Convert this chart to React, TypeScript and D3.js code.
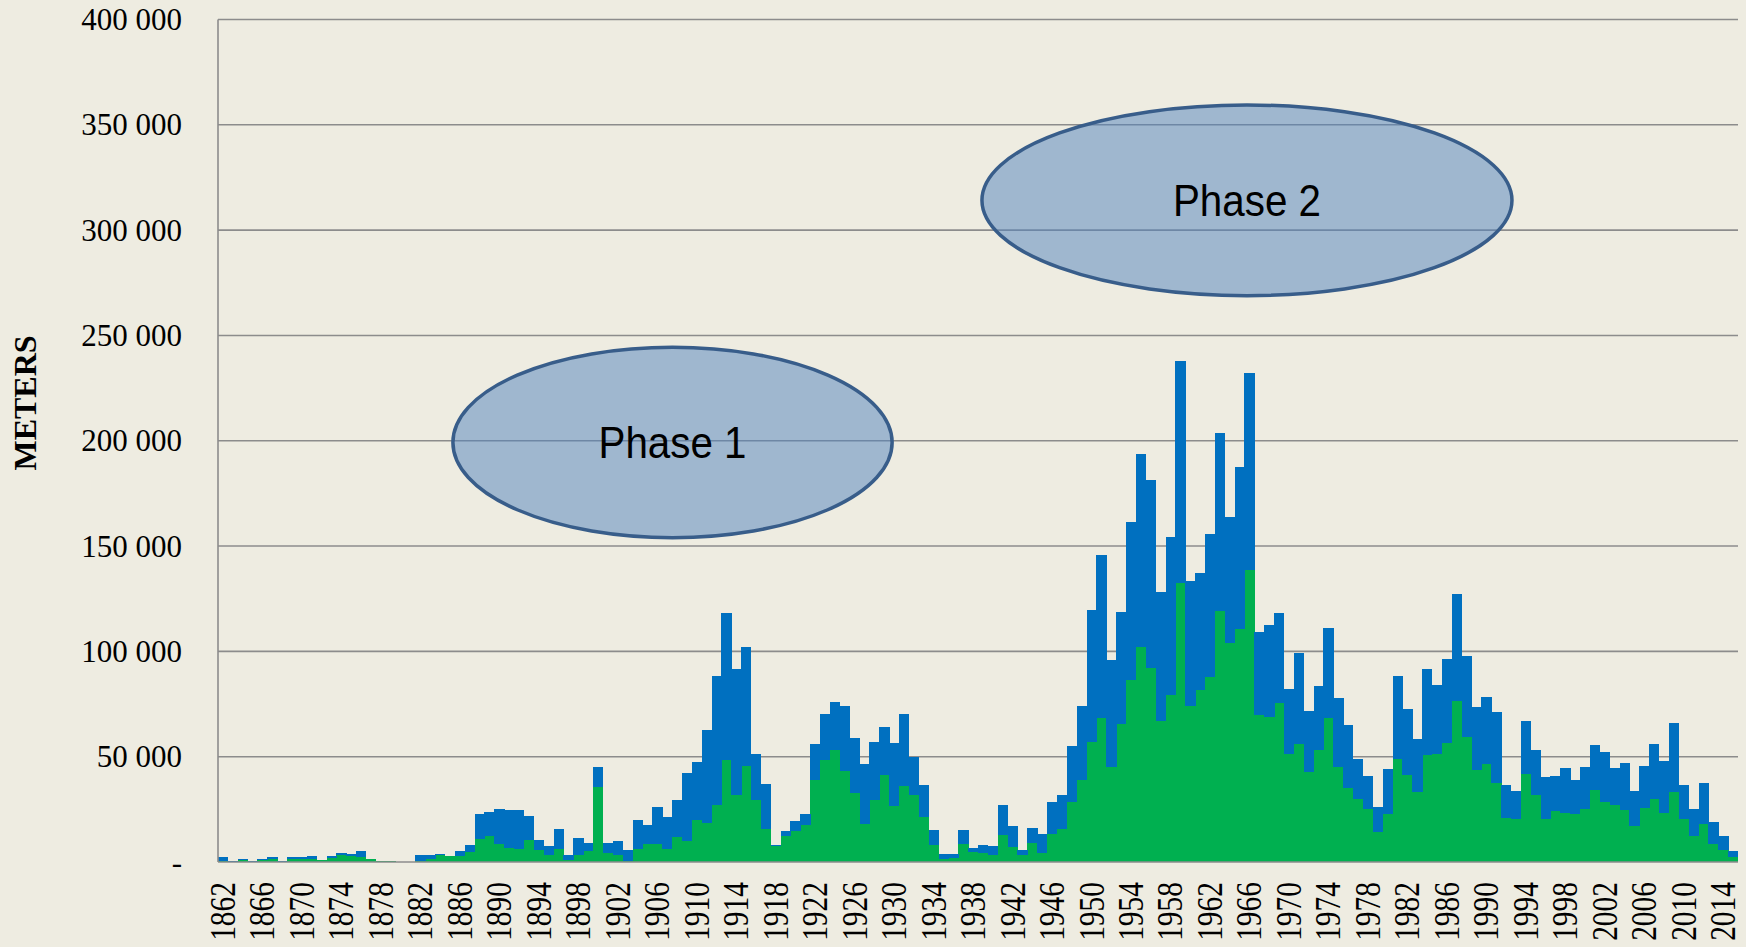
import { useEffect, useRef } from 'react';
import * as d3 from 'd3';

const WIDTH = 1746;
const HEIGHT = 947;

const YEARS = d3.range(1862, 2016);

// lower (green) part of every yearly bar, metres
const GREEN = [
  500, 200, 800, 100, 1100, 1400, 200, 1600,
  1400, 1600, 950, 1900, 3300, 2850, 2500, 1400, 500, 400,
  100, 100, 300, 1400, 3500, 2700, 2700, 4750, 11100, 12200,
  8700, 6800, 6200, 10300, 5700, 3500, 6300, 1100, 3300, 5100,
  35500, 4100, 3200, 300, 6300, 8700, 8700, 6300, 11900, 10000,
  19800, 18500, 26900, 48300, 31700, 45800, 29500, 15500, 7600, 12200,
  14600, 17400, 39000, 48500, 53100, 43200, 32900, 18100, 29500, 41300,
  26600, 36100, 31800, 21200, 8200, 1400, 1700, 8600, 4800, 4400,
  3400, 12700, 7200, 3400, 8900, 4400, 13500, 15600, 28300, 38900,
  57000, 68600, 45000, 65700, 86600, 102200, 92300, 67000, 79200, 132600,
  74100, 81700, 87900, 119300, 103900, 110700, 138500, 69900, 68900, 75600,
  51100, 55800, 42900, 53200, 68600, 45000, 35200, 30000, 25000, 14300,
  22700, 48900, 41500, 33100, 50800, 51500, 56500, 76500, 59200, 43900,
  46300, 37400, 21100, 20400, 41700, 31700, 20400, 24200, 23100, 22700,
  25200, 34100, 28400, 27100, 24600, 17100, 25700, 29900, 23300, 33300,
  20400, 12200, 17900, 8400, 5500, 2500,
];

// upper (blue) part stacked on the green one, metres
const BLUE = [
  1900, 300, 800, 200, 500, 1100, 300, 900,
  800, 1400, 150, 1100, 800, 1150, 2900, 200, 100, 100,
  50, 50, 3200, 2100, 300, 300, 2700, 3450, 11550, 11700,
  16500, 18100, 18350, 11700, 4900, 3950, 9200, 2200, 8100, 3700,
  9800, 5100, 6600, 5400, 13700, 8700, 17400, 15200, 17600, 32100,
  27600, 44100, 61200, 69700, 59700, 56400, 21800, 21700, 500, 2700,
  4700, 5400, 16800, 22000, 22900, 31100, 26000, 28200, 27400, 22700,
  29900, 34400, 18200, 15400, 7000, 2400, 1900, 6700, 1900, 3700,
  4200, 14300, 9700, 2500, 7400, 8900, 15200, 16100, 27000, 35000,
  62700, 77100, 50700, 53200, 74800, 91700, 89300, 61000, 75200, 105200,
  59200, 55600, 68000, 84500, 60000, 76600, 93600, 39300, 43700, 42700,
  30800, 43500, 28700, 30200, 42700, 32700, 29800, 18900, 15900, 12000,
  21300, 39300, 31000, 25400, 40600, 32300, 40000, 50900, 38700, 29800,
  32100, 34000, 15500, 13500, 25100, 21400, 19800, 16400, 21400, 16000,
  19800, 21500, 23900, 17600, 22600, 16500, 19900, 26300, 24500, 32900,
  16200, 12800, 19800, 10800, 7000, 2600,
];

const Y_TICKS = [0, 50000, 100000, 150000, 200000, 250000, 300000, 350000, 400000];
const X_TICK_YEARS = d3.range(1862, 2016, 4);

// ellipse annotations, extents in data units (years / metres)
const PHASES = [
  { label: 'Phase 1', from: 1885.8, to: 1930.3, low: 154000, high: 244400 },
  { label: 'Phase 2', from: 1939.4, to: 1993.1, low: 268900, high: 359400 },
];

const COLORS = {
  bg: '#EEECE1',
  grid: '#8C8C8C',
  green: '#00B050',
  blue: '#0070C0',
  ellipseFill: '#4F81BD',
  ellipseStroke: '#385D8A',
};

const PLOT = { left: 218, right: 1738, top: 19.5, bottom: 862 };

export default function App() {
  const svgRef = useRef<SVGSVGElement>(null);

  useEffect(() => {
    document.body.style.margin = '0';
    if (!svgRef.current) return;
    const svg = d3.select(svgRef.current);
    svg.selectAll('*').remove();

    const rows = YEARS.map((year, i) => ({ year, green: GREEN[i], blue: BLUE[i] }));

    const x = d3.scaleBand<number>()
      .domain(YEARS)
      .range([PLOT.left, PLOT.right])
      .padding(0);
    const xLin = d3.scaleLinear()
      .domain([YEARS[0], YEARS[YEARS.length - 1] + 1])
      .range([PLOT.left, PLOT.right]);
    const y = d3.scaleLinear()
      .domain([0, 400000])
      .range([PLOT.bottom, PLOT.top]);

    svg.append('rect')
      .attr('width', WIDTH)
      .attr('height', HEIGHT)
      .attr('fill', COLORS.bg);

    // grid
    svg.append('g')
      .selectAll('line')
      .data(Y_TICKS.filter(d => d > 0))
      .join('line')
      .attr('x1', PLOT.left)
      .attr('x2', PLOT.right)
      .attr('y1', d => y(d))
      .attr('y2', d => y(d))
      .attr('stroke', COLORS.grid)
      .attr('stroke-width', 1.6);

    // stacked bars
    const stacked = d3.stack<typeof rows[0]>().keys(['green', 'blue'])(rows);
    svg.append('g')
      .attr('shape-rendering', 'crispEdges')
      .selectAll('g')
      .data(stacked)
      .join('g')
      .attr('fill', s => (s.key === 'green' ? COLORS.green : COLORS.blue))
      .selectAll('rect')
      .data(s => s)
      .join('rect')
      .attr('x', d => x(d.data.year)!)
      .attr('width', x.bandwidth() + 0.4)
      .attr('y', d => y(d[1]))
      .attr('height', d => y(d[0]) - y(d[1]));

    // axis lines
    svg.append('line')
      .attr('x1', PLOT.left).attr('x2', PLOT.left)
      .attr('y1', PLOT.top).attr('y2', PLOT.bottom)
      .attr('stroke', COLORS.grid).attr('stroke-width', 1.6);
    svg.append('line')
      .attr('x1', PLOT.left).attr('x2', PLOT.right)
      .attr('y1', PLOT.bottom).attr('y2', PLOT.bottom)
      .attr('stroke', COLORS.grid).attr('stroke-width', 1.6);

    // y tick labels
    const fmt = (d: number) => (d === 0 ? '-' : d3.format(',')(d).replace(/,/g, ' '));
    svg.append('g')
      .selectAll('text')
      .data(Y_TICKS)
      .join('text')
      .attr('x', 182)
      .attr('y', d => y(d))
      .attr('text-anchor', 'end')
      .attr('dominant-baseline', 'central')
      .attr('font-family', '"Liberation Serif", "Times New Roman", serif')
      .attr('font-size', 31)
      .attr('fill', '#000')
      .text(fmt);

    // x tick labels
    svg.append('g')
      .selectAll('text')
      .data(X_TICK_YEARS)
      .join('text')
      .attr('transform', d => `translate(${x(d)! + x.bandwidth() / 2},882) rotate(-90) scale(0.92,1.12)`)
      .attr('text-anchor', 'end')
      .attr('dominant-baseline', 'central')
      .attr('font-family', '"Liberation Serif", "Times New Roman", serif')
      .attr('font-size', 32)
      .attr('fill', '#000')
      .text(d => String(d));

    // axis title
    svg.append('text')
      .attr('transform', 'translate(25,403) rotate(-90)')
      .attr('text-anchor', 'middle')
      .attr('dominant-baseline', 'central')
      .attr('font-family', '"Liberation Serif", "Times New Roman", serif')
      .attr('font-weight', 'bold')
      .attr('font-size', 32)
      .text('METERS');

    // phase ellipses
    const ph = svg.append('g')
      .selectAll('g')
      .data(PHASES)
      .join('g');
    ph.append('ellipse')
      .attr('cx', d => (xLin(d.from) + xLin(d.to)) / 2)
      .attr('cy', d => (y(d.low) + y(d.high)) / 2)
      .attr('rx', d => (xLin(d.to) - xLin(d.from)) / 2)
      .attr('ry', d => (y(d.low) - y(d.high)) / 2)
      .attr('fill', COLORS.ellipseFill)
      .attr('fill-opacity', 0.5)
      .attr('stroke', COLORS.ellipseStroke)
      .attr('stroke-width', 3.5);
    ph.append('text')
      .attr('x', d => (xLin(d.from) + xLin(d.to)) / 2)
      .attr('y', d => (y(d.low) + y(d.high)) / 2 + 16)
      .attr('text-anchor', 'middle')
      .attr('font-family', '"Liberation Sans", Arial, sans-serif')
      .attr('font-size', 45)
      .attr('textLength', 148)
      .attr('lengthAdjust', 'spacingAndGlyphs')
      .attr('fill', '#000')
      .text(d => d.label);
  }, []);

  return (
    <svg
      ref={svgRef}
      width={WIDTH}
      height={HEIGHT}
      style={{ display: 'block', position: 'absolute', left: 0, top: 0 }}
    />
  );
}
